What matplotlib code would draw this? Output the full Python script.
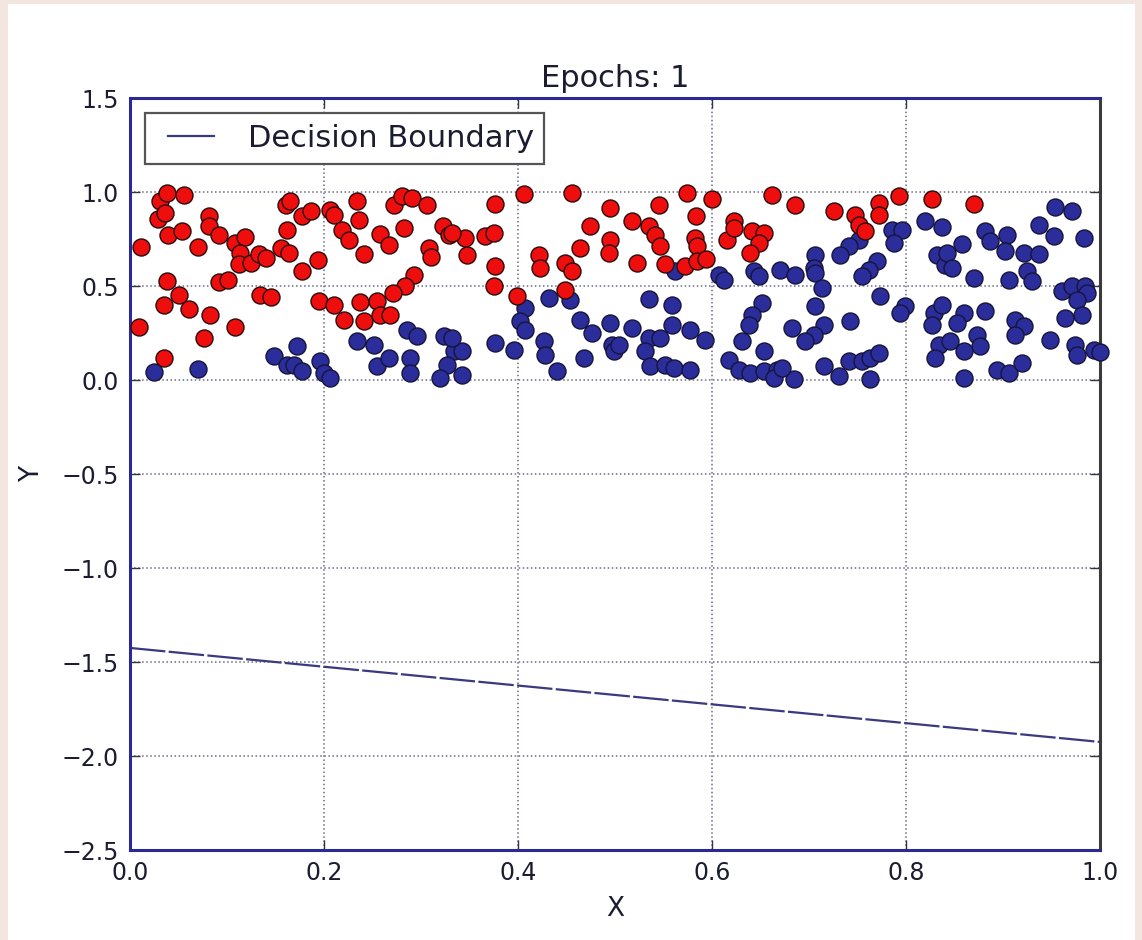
import numpy as np
import matplotlib
matplotlib.use("Agg")
import matplotlib.pyplot as plt
from matplotlib.patches import Rectangle

# red class (label 1)
red_x = [0.031, 0.038, 0.056, 0.029, 0.036, 0.039, 0.054, 0.011, 0.070, 0.081,
         0.081, 0.092, 0.108, 0.119, 0.113, 0.112, 0.125, 0.133, 0.140, 0.156,
         0.164, 0.161, 0.162, 0.038, 0.092, 0.101, 0.134, 0.145, 0.051, 0.035,
         0.061, 0.082, 0.009, 0.108, 0.076, 0.035,
         0.165, 0.177, 0.187, 0.206, 0.210, 0.234, 0.236, 0.219, 0.226, 0.241,
         0.258, 0.267, 0.272, 0.280, 0.291, 0.306, 0.282, 0.323, 0.329, 0.308,
         0.310, 0.194, 0.177, 0.293, 0.284, 0.271, 0.255, 0.237, 0.195, 0.210,
         0.221, 0.241, 0.258, 0.268,
         0.376, 0.406, 0.456, 0.495, 0.474, 0.464, 0.495, 0.494, 0.345, 0.347,
         0.366, 0.375, 0.332, 0.376, 0.422, 0.423, 0.448, 0.456, 0.375, 0.399,
         0.448,
         0.574, 0.600, 0.662, 0.545, 0.518, 0.535, 0.541, 0.546, 0.584, 0.582,
         0.585, 0.523, 0.552, 0.572, 0.585, 0.594, 0.615, 0.623, 0.623, 0.641,
         0.654, 0.649, 0.639,
         0.686, 0.726, 0.747, 0.752, 0.758, 0.772, 0.772, 0.793, 0.827, 0.870]
red_y = [0.952, 0.995, 0.984, 0.856, 0.888, 0.771, 0.793, 0.707, 0.707, 0.872,
         0.819, 0.771, 0.729, 0.761, 0.676, 0.617, 0.622, 0.670, 0.649, 0.702,
         0.676, 0.931, 0.798, 0.527, 0.521, 0.532, 0.452, 0.441, 0.452, 0.399,
         0.378, 0.346, 0.282, 0.282, 0.223, 0.117,
         0.952, 0.872, 0.899, 0.904, 0.878, 0.952, 0.851, 0.798, 0.745, 0.670,
         0.777, 0.718, 0.931, 0.979, 0.968, 0.931, 0.809, 0.819, 0.771, 0.702,
         0.654, 0.638, 0.580, 0.559, 0.500, 0.463, 0.420, 0.415, 0.420, 0.399,
         0.319, 0.314, 0.346, 0.346,
         0.936, 0.989, 0.995, 0.915, 0.819, 0.702, 0.745, 0.676, 0.755, 0.665,
         0.766, 0.782, 0.782, 0.606, 0.665, 0.596, 0.622, 0.580, 0.500, 0.447,
         0.479,
         0.995, 0.963, 0.984, 0.931, 0.846, 0.819, 0.771, 0.713, 0.872, 0.755,
         0.713, 0.622, 0.617, 0.606, 0.633, 0.644, 0.745, 0.846, 0.809, 0.793,
         0.782, 0.729, 0.676,
         0.931, 0.899, 0.878, 0.824, 0.793, 0.941, 0.878, 0.979, 0.963, 0.936]

# blue class (label 0)
blue_x = [0.025, 0.070, 0.149, 0.162,
          0.172, 0.169, 0.177, 0.196, 0.200, 0.206, 0.234, 0.252, 0.255, 0.267,
          0.286, 0.296, 0.289, 0.289, 0.324, 0.334, 0.327, 0.320,
          0.407, 0.402, 0.407, 0.432, 0.454, 0.464, 0.476, 0.495, 0.497, 0.499,
          0.468, 0.440, 0.427, 0.428, 0.396, 0.376, 0.342, 0.342, 0.332,
          0.562, 0.607, 0.612, 0.643, 0.649, 0.670, 0.535, 0.559, 0.652, 0.641,
          0.638, 0.559, 0.518, 0.577, 0.593, 0.535, 0.546, 0.531, 0.536, 0.552,
          0.561, 0.577, 0.631, 0.654, 0.618, 0.628, 0.639, 0.654, 0.667, 0.664,
          0.504,
          0.820, 0.837, 0.786, 0.796, 0.788, 0.752, 0.741, 0.732, 0.706, 0.705,
          0.706, 0.686, 0.770, 0.762, 0.755, 0.832, 0.840, 0.713, 0.773, 0.706,
          0.799, 0.794, 0.742, 0.682, 0.715, 0.705, 0.696, 0.829, 0.827, 0.837,
          0.834, 0.830, 0.715, 0.731, 0.741, 0.755, 0.763, 0.772, 0.763, 0.685,
          0.672,
          0.954, 0.971, 0.937, 0.953, 0.984, 0.858, 0.881, 0.887, 0.904, 0.902,
          0.922, 0.937, 0.842, 0.847, 0.870, 0.906, 0.925, 0.930, 0.961, 0.971,
          0.985, 0.987, 0.976, 0.860, 0.853, 0.881, 0.912, 0.922, 0.912, 0.964,
          0.981, 0.873, 0.876, 0.860, 0.845, 0.948, 0.974, 0.976, 0.994, 0.894,
          0.906, 0.920, 0.860, 1.000]
blue_y = [0.043, 0.059, 0.128, 0.080,
          0.181, 0.080, 0.048, 0.101, 0.037, 0.011, 0.207, 0.186, 0.074, 0.117,
          0.266, 0.234, 0.117, 0.037, 0.234, 0.154, 0.080, 0.011,
          0.383, 0.314, 0.266, 0.436, 0.426, 0.319, 0.250, 0.303, 0.186, 0.154,
          0.117, 0.048, 0.207, 0.133, 0.160, 0.197, 0.154, 0.027, 0.223,
          0.580, 0.559, 0.532, 0.580, 0.553, 0.585, 0.431, 0.399, 0.410, 0.346,
          0.293, 0.293, 0.277, 0.266, 0.213, 0.223, 0.223, 0.154, 0.074, 0.080,
          0.064, 0.053, 0.207, 0.154, 0.106, 0.053, 0.037, 0.048, 0.053, 0.011,
          0.186,
          0.846, 0.814, 0.798, 0.798, 0.729, 0.745, 0.713, 0.665, 0.665, 0.596,
          0.569, 0.559, 0.633, 0.585, 0.553, 0.665, 0.612, 0.489, 0.447, 0.394,
          0.394, 0.356, 0.314, 0.277, 0.293, 0.239, 0.207, 0.356, 0.293, 0.399,
          0.186, 0.117, 0.074, 0.021, 0.101, 0.101, 0.117, 0.144, 0.005, 0.005,
          0.064,
          0.920, 0.899, 0.824, 0.766, 0.755, 0.723, 0.793, 0.739, 0.771, 0.686,
          0.676, 0.670, 0.676, 0.596, 0.543, 0.532, 0.580, 0.527, 0.473, 0.500,
          0.500, 0.463, 0.426, 0.356, 0.303, 0.367, 0.319, 0.287, 0.239, 0.330,
          0.346, 0.239, 0.181, 0.154, 0.207, 0.213, 0.186, 0.133, 0.160, 0.053,
          0.037, 0.090, 0.011, 0.150]

# decision boundary after epoch 1
boundary_x = [0.0, 1.0]
boundary_y = [-1.425, -1.925]
epoch = 1

navy = '#2a2a92'
txt = '#1c1c30'

fig = plt.figure(figsize=(11.42, 9.4), dpi=100)
fig.patch.set_facecolor('#f3e5df')
# white sheet inside the pinkish border
fig.add_artist(Rectangle((0.007, 0.0), 0.987, 0.996, transform=fig.transFigure,
                         facecolor='white', edgecolor='none', zorder=-10))
ax = fig.add_axes([0.1138, 0.0957, 0.8494, 0.8])

ax.scatter(blue_x, blue_y, s=150, c='#2b2d9a', edgecolors='#15153a',
           linewidths=1.0, zorder=3, clip_on=False)
ax.scatter(red_x, red_y, s=150, c='#ee0e0e', edgecolors='#2a0a0a',
           linewidths=1.0, zorder=3)
ax.plot(boundary_x, boundary_y, color='#3a3a80', lw=1.6, dashes=(16, 1.5),
        label='Decision Boundary', zorder=2)

ax.set_xlim(0, 1)
ax.set_ylim(-2.5, 1.5)
ax.set_xticks(np.arange(0, 1.01, 0.2))
ax.set_yticks(np.arange(-2.5, 1.51, 0.5))
ax.grid(True, linestyle=':', color='#6a6a88', lw=1.1)
ax.tick_params(direction='in', top=True, right=True, length=7, width=1,
               labelsize=17, labelcolor=txt, colors='#333344', pad=8)
for side in ['left', 'top', 'bottom']:
    ax.spines[side].set_color(navy)
    ax.spines[side].set_linewidth(2.2)
ax.spines['right'].set_color('#3a3a3a')
ax.spines['right'].set_linewidth(2.2)

ax.set_title('Epochs: %d' % epoch, fontsize=22, color=txt, pad=8)
ax.set_xlabel('X', fontsize=19, color=txt, labelpad=8)
ax.set_ylabel('Y', fontsize=19, color=txt, labelpad=12)

leg = ax.legend(loc='upper left', fontsize=22, fancybox=False, framealpha=1,
                handlelength=1.9, handletextpad=1.1, borderpad=0.35,
                borderaxespad=0.5)
leg.get_frame().set_edgecolor('#555555')
leg.get_frame().set_linewidth(1.6)
for t in leg.get_texts():
    t.set_color(txt)
hl = leg.get_lines()[0]
hl.set_linestyle('-')
hx = np.asarray(hl.get_xdata(), dtype=float)
hl.set_xdata(np.linspace(hx.min() + 0.2 * (hx.max() - hx.min()), hx.max(), len(hx)))

fig.savefig('out.png', dpi=100, facecolor=fig.get_facecolor())
